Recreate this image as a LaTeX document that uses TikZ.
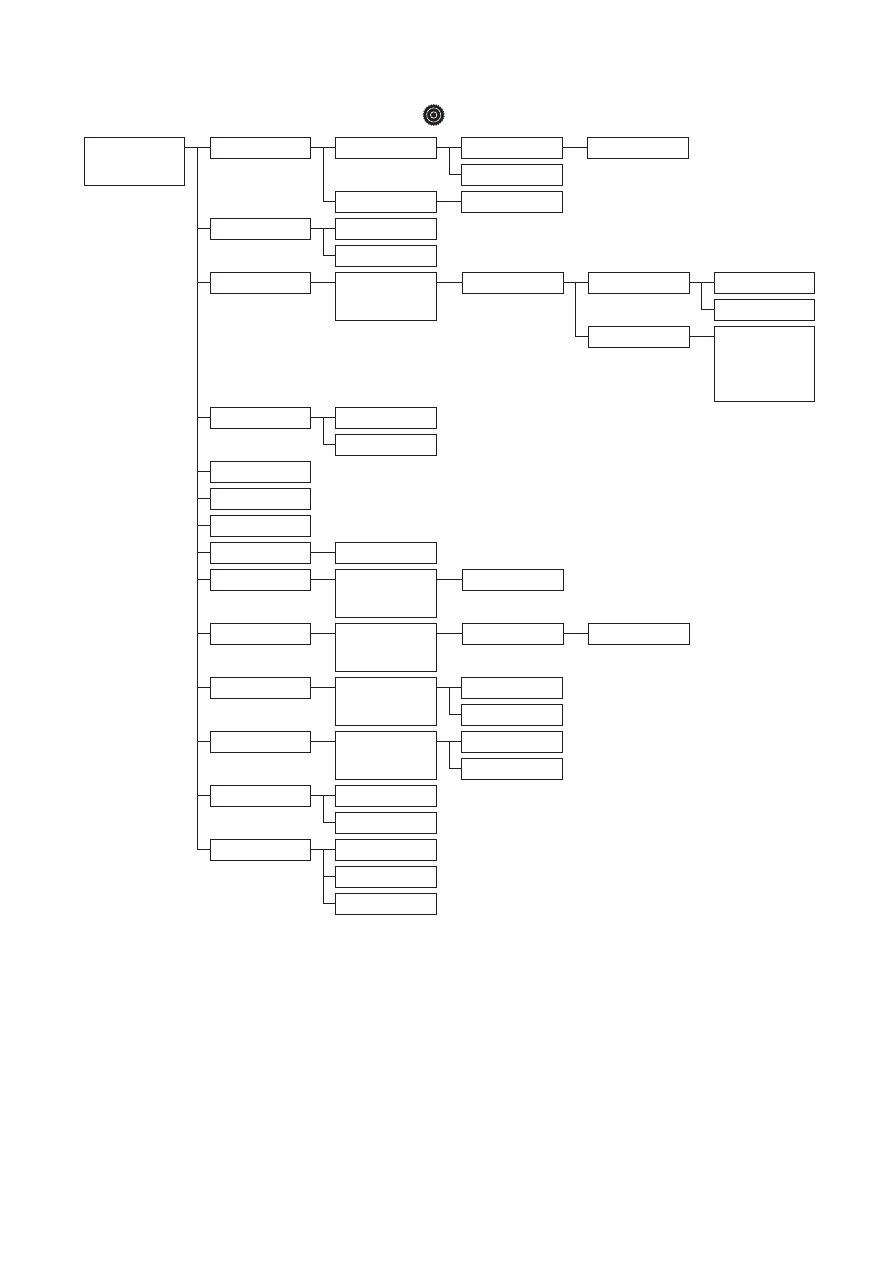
\documentclass[tikz,border=0pt]{standalone}
\usepackage{tikz}
\usetikzlibrary{calc,shapes.geometric}
\definecolor{ink}{HTML}{231F20}
\tikzset{
    every picture/.style={line cap=butt,line join=miter},
    box/.style={draw=ink,line width=0.9pt,minimum width=75.75pt,minimum height=15.75pt,
      inner sep=0pt,outer sep=0pt},
    slim/.style={minimum width=75pt},
    tall/.style={minimum height=36pt},
    taller/.style={minimum height=56.25pt},
    wire/.style={draw=ink,line width=0.9pt,transform canvas={yshift=0.375pt}},
    cogwheel/.style={star,star points=26,star point ratio=1.12,minimum size=16pt,
      inner sep=0pt,fill=ink,draw=ink,line width=0.3pt},
    cogring/.style={draw=white,line width=0.5pt}
}
\begin{document}
\begin{tikzpicture}[x=0.75pt,y=-0.75pt]
  \useasboundingbox (0,0) rectangle (894,1263);
  % icon above the tree
  \node[cogwheel] (cog) at (433.7,115) {};
  \node[circle,minimum size=10.6pt,inner sep=0pt,cogring,dash pattern=on 2pt off 0.5pt] (cogouter) at (cog.center) {};
  \node[circle,minimum size=4.8pt,inner sep=0pt,cogring] (coginner) at (cog.center) {};
  % root
  \node[box,slim,tall] (root) at (134.5,161.5) {};
  % first level
  \node[box,slim] (a1) at (260.5,148) {};
  \node[box,slim] (a2) at (260.5,229) {};
  \node[box,slim] (a3) at (260.5,283) {};
  \node[box,slim] (a4) at (260.5,418) {};
  \node[box,slim] (a5) at (260.5,472) {};
  \node[box,slim] (a6) at (260.5,499) {};
  \node[box,slim] (a7) at (260.5,526) {};
  \node[box,slim] (a8) at (260.5,553) {};
  \node[box,slim] (a9) at (260.5,580) {};
  \node[box,slim] (a10) at (260.5,634) {};
  \node[box,slim] (a11) at (260.5,688) {};
  \node[box,slim] (a12) at (260.5,742) {};
  \node[box,slim] (a13) at (260.5,796) {};
  \node[box,slim] (a14) at (260.5,850) {};
  % second level
  \node[box] (b1a) at (386,148) {};
  \node[box] (b1b) at (386,202) {};
  \node[box] (b2a) at (386,229) {};
  \node[box] (b2b) at (386,256) {};
  \node[box,tall] (b3) at (386,296.5) {};
  \node[box] (b4a) at (386,418) {};
  \node[box] (b4b) at (386,445) {};
  \node[box] (b8) at (386,553) {};
  \node[box,tall] (b9) at (386,593.5) {};
  \node[box,tall] (b10) at (386,647.5) {};
  \node[box,tall] (b11) at (386,701.5) {};
  \node[box,tall] (b12) at (386,755.5) {};
  \node[box] (b13a) at (386,796) {};
  \node[box] (b13b) at (386,823) {};
  \node[box] (b14a) at (386,850) {};
  \node[box] (b14b) at (386,877) {};
  \node[box] (b14c) at (386,904) {};
  % third level
  \node[box] (c1a) at (512,148) {};
  \node[box] (c1b) at (512,175) {};
  \node[box] (c1c) at (512,202) {};
  \node[box] (c3) at (513,283) {};
  \node[box] (c9) at (513,580) {};
  \node[box] (c10) at (513,634) {};
  \node[box] (c11a) at (512,688) {};
  \node[box] (c11b) at (512,715) {};
  \node[box] (c12a) at (512,742) {};
  \node[box] (c12b) at (512,769) {};
  % fourth and fifth level
  \node[box] (d1) at (638,148) {};
  \node[box] (d3a) at (639,283) {};
  \node[box] (d3b) at (639,337) {};
  \node[box] (d10) at (639,634) {};
  \node[box,slim] (e3a) at (764.5,283) {};
  \node[box,slim] (e3b) at (764.5,310) {};
  \node[box,slim,taller] (e3c) at (764.5,364) {};
  % trunk
  \coordinate (trunk) at ($(root.east |- a1)+(13,0)$);
  \draw[wire] (root.east |- a1)--(a1);
  \draw[wire] (trunk) |- (a14);
  \draw[wire] (trunk |- a2)--(a2);
  \draw[wire] (trunk |- a3)--(a3);
  \draw[wire] (trunk |- a4)--(a4);
  \draw[wire] (trunk |- a5)--(a5);
  \draw[wire] (trunk |- a6)--(a6);
  \draw[wire] (trunk |- a7)--(a7);
  \draw[wire] (trunk |- a8)--(a8);
  \draw[wire] (trunk |- a9)--(a9);
  \draw[wire] (trunk |- a10)--(a10);
  \draw[wire] (trunk |- a11)--(a11);
  \draw[wire] (trunk |- a12)--(a12);
  \draw[wire] (trunk |- a13)--(a13);
  % first to second level
  \draw[wire] (a1)--(b1a);
  \draw[wire] ($(a1.east)+(13,0)$) |- (b1b);
  \draw[wire] (a2)--(b2a);
  \draw[wire] ($(a2.east)+(13,0)$) |- (b2b);
  \draw[wire] (a3)--(a3 -| b3.west);
  \draw[wire] (a4)--(b4a);
  \draw[wire] ($(a4.east)+(13,0)$) |- (b4b);
  \draw[wire] (a8)--(b8);
  \draw[wire] (a9)--(a9 -| b9.west);
  \draw[wire] (a10)--(a10 -| b10.west);
  \draw[wire] (a11)--(a11 -| b11.west);
  \draw[wire] (a12)--(a12 -| b12.west);
  \draw[wire] (a13)--(b13a);
  \draw[wire] ($(a13.east)+(13,0)$) |- (b13b);
  \draw[wire] (a14)--(b14a);
  \draw[wire] ($(a14.east)+(13,0)$) |- (b14b);
  \draw[wire] ($(a14.east)+(13,0)$) |- (b14c);
  % second to third level
  \draw[wire] (b1a)--(c1a);
  \draw[wire] ($(b1a.east)+(13,0)$) |- (c1b);
  \draw[wire] (b1b)--(c1c);
  \draw[wire] (b3.east |- c3)--(c3);
  \draw[wire] (b9.east |- c9)--(c9);
  \draw[wire] (b10.east |- c10)--(c10);
  \draw[wire] (b11.east |- c11a)--(c11a);
  \draw[wire] ($(b11.east |- c11a)+(13,0)$) |- (c11b);
  \draw[wire] (b12.east |- c12a)--(c12a);
  \draw[wire] ($(b12.east |- c12a)+(13,0)$) |- (c12b);
  % third to fourth and fifth level
  \draw[wire] (c1a)--(d1);
  \draw[wire] (c3)--(d3a);
  \draw[wire] ($(c3.east)+(12,0)$) |- (d3b);
  \draw[wire] (c10)--(d10);
  \draw[wire] (d3a)--(e3a);
  \draw[wire] ($(d3a.east)+(12,0)$) |- (e3b);
  \draw[wire] (d3b)--(d3b -| e3c.west);
\end{tikzpicture}
\end{document}
